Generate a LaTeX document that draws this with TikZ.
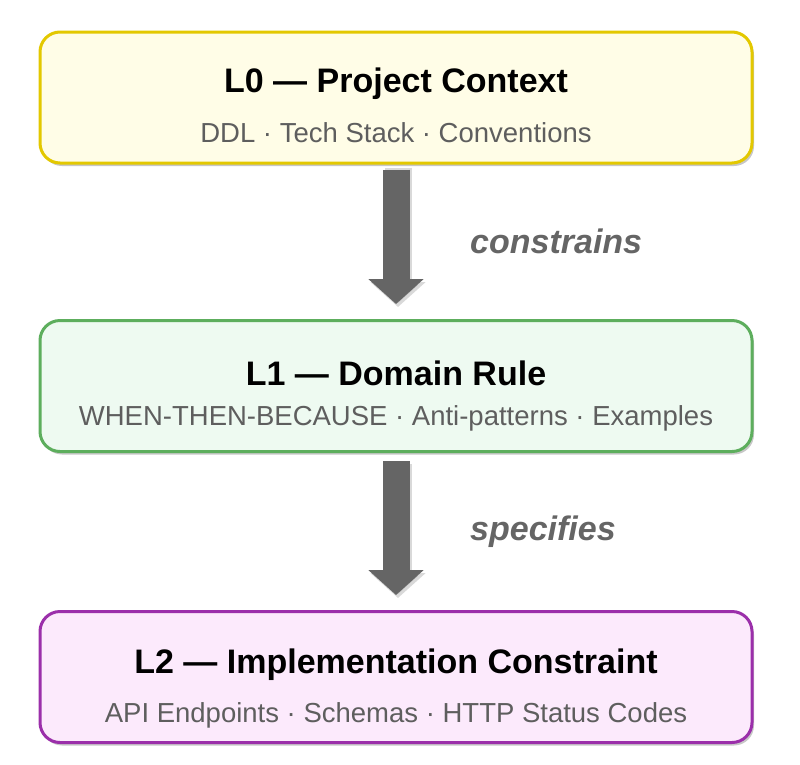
\documentclass[tikz,border=0pt]{standalone}
\usepackage{fontspec}
\setmainfont{Liberation Sans}
\usetikzlibrary{calc,positioning,shadows,arrows.meta}

\definecolor{yellowline}{HTML}{E3C800}
\definecolor{yellowfill}{HTML}{FFFDE7}
\definecolor{greenline}{HTML}{5DAE5D}
\definecolor{greenfill}{HTML}{EEFAF1}
\definecolor{purpleline}{HTML}{9B2FAA}
\definecolor{purplefill}{HTML}{FCEAFC}
\definecolor{arrowgray}{HTML}{656565}
\definecolor{subgray}{HTML}{5E5E5E}

\tikzset{
	layerbox/.style={draw=#1line, fill=#1fill, line width=3pt, rounded corners=20pt,
		minimum width=712pt, minimum height=131pt, inner sep=0pt,
		drop shadow={shadow xshift=2pt, shadow yshift=-3pt, opacity=0.22, fill=black}},
	titletext/.style={anchor=base, inner sep=0pt, font=\fontsize{34}{40}\selectfont\bfseries},
	subtext/.style={anchor=base, inner sep=0pt, text=subgray, font=\fontsize{27.5}{32}\selectfont},
	flowarrow/.style={draw=arrowgray, line width=27pt, -{Triangle[width=54pt,length=25pt]}},
	flowlabel/.style={anchor=west, inner sep=0pt, text=arrowgray, font=\fontsize{34}{40}\selectfont\bfseries\itshape}
}

\begin{document}
\begin{tikzpicture}[x=1pt, y=-1pt]
		%%%%% START %%%%%
		\useasboundingbox (0, 0) rectangle (800, 764);
		
		\node[layerbox=yellow] (l0) at (396, 97.5) {};
		\node[layerbox=green] (l1) at (396, 386) {};
		\node[layerbox=purple] (l2) at (396, 677) {};
		
		\node[titletext] (l0title) at (396, 92) {L0 — Project Context};
		\node[subtext] (l0sub) at (396, 142) {DDL · Tech Stack · Conventions};
		
		\node[titletext] (l1title) at (396, 385) {L1 — Domain Rule};
		\node[subtext] (l1sub) at (396, 425) {WHEN-THEN-BECAUSE · Anti-patterns · Examples};
		
		\node[titletext] (l2title) at (396, 673) {L2 — Implementation Constraint};
		\node[subtext] (l2sub) at (396, 722) {API Endpoints · Schemas · HTTP Status Codes};
		
		% arrows between the layers
		\draw[flowarrow, draw=black, opacity=0.15] ([shift={(2pt,-3pt)}]l0.south) -- ([shift={(2pt,12pt)}]l1.north);
		\draw[flowarrow] ([yshift=-5pt]l0.south) -- ([yshift=15pt]l1.north);
		\draw[flowarrow, draw=black, opacity=0.15] ([shift={(2pt,-11pt)}]l1.south) -- ([shift={(2pt,12pt)}]l2.north);
		\draw[flowarrow] ([yshift=-8pt]l1.south) -- ([yshift=15pt]l2.north);
		
		\node[flowlabel] (constrains) at ($(l0.south)!0.5!(l1.north)+(74, 0)$) {constrains};
		\node[flowlabel] (specifies) at ($(l1.south)!0.5!(l2.north)+(74, 0)$) {specifies};
		
		%%%%% END %%%%%
	\end{tikzpicture}
\end{document}
